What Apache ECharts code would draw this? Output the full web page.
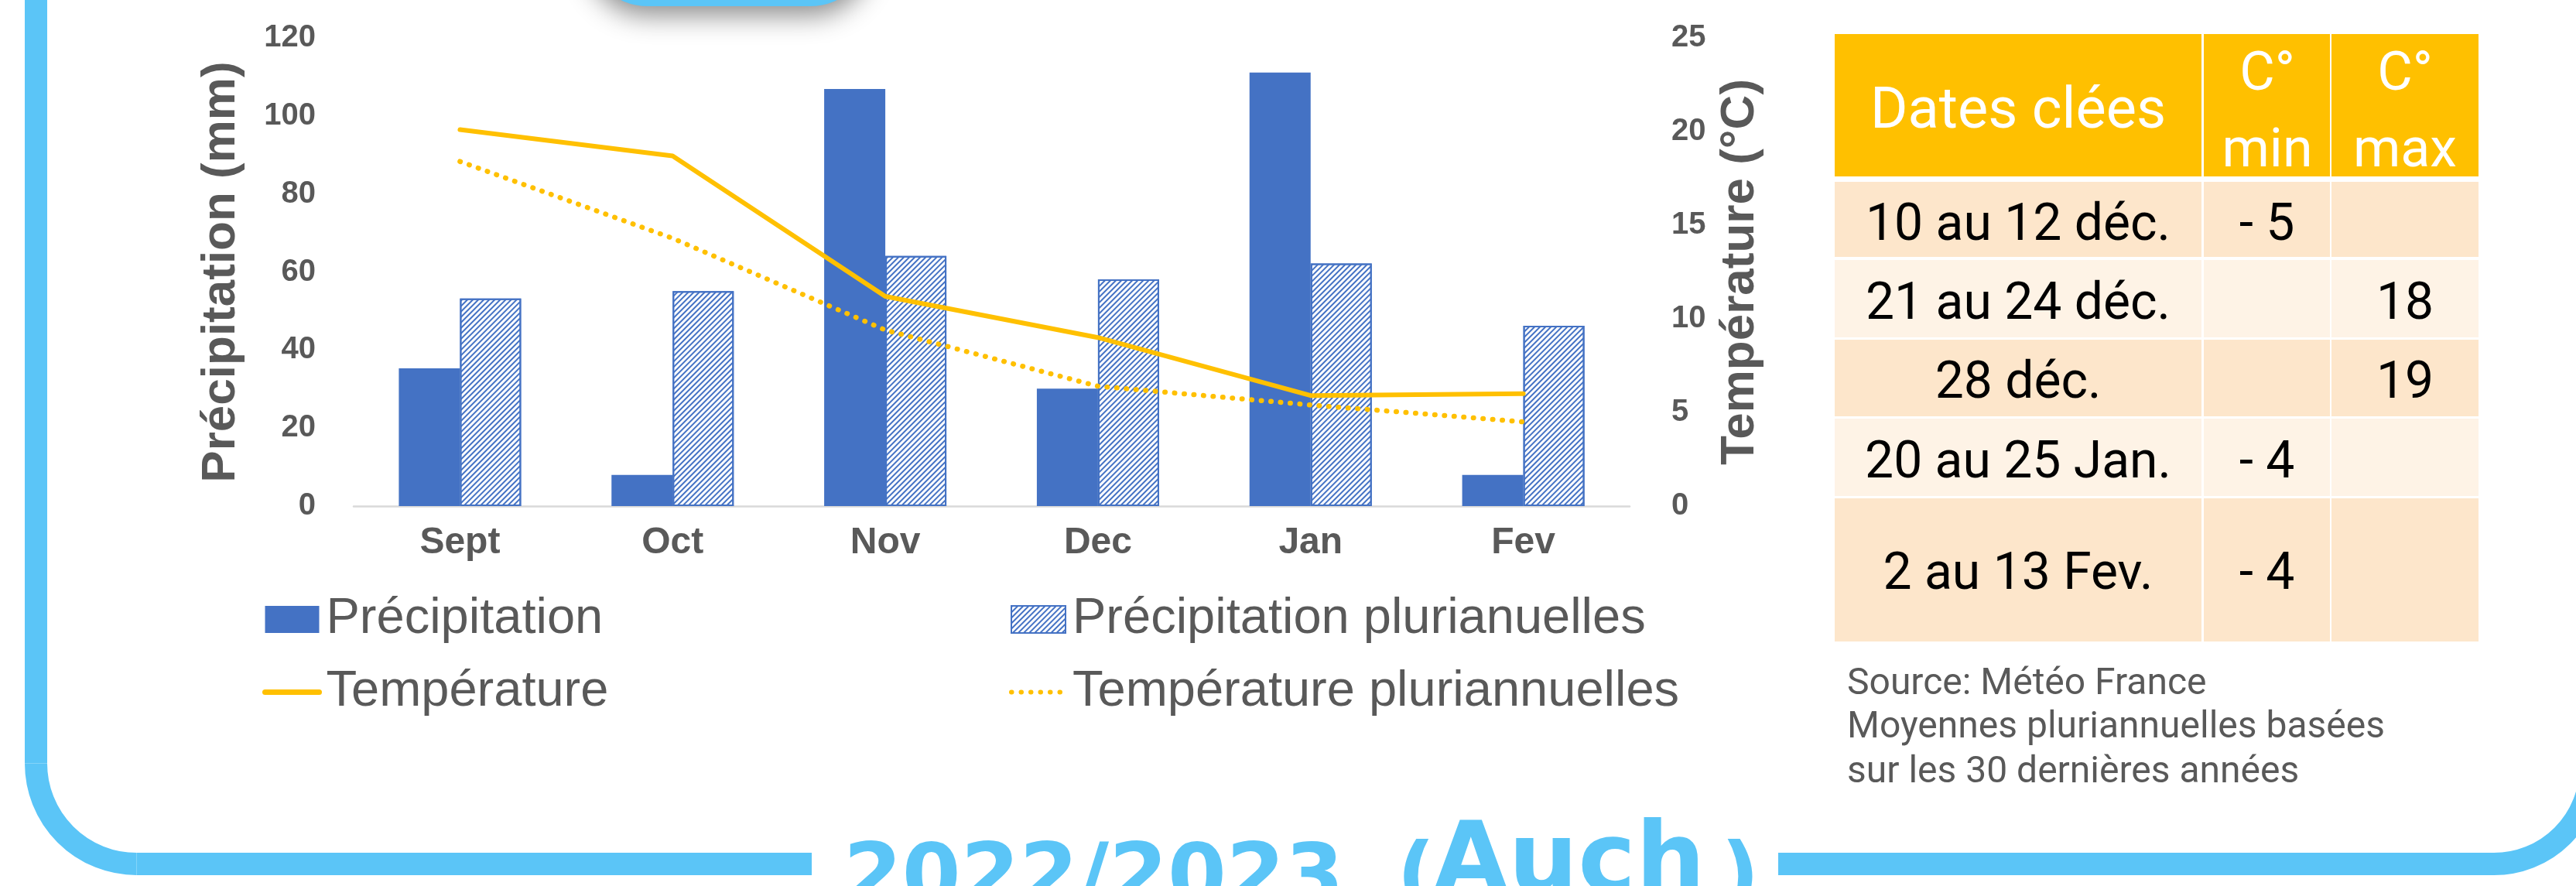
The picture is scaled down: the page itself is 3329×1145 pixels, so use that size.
<!DOCTYPE html>
<html><head><meta charset="utf-8">
<script src="https://cdn.jsdelivr.net/npm/echarts@6/dist/echarts.min.js"></script>
<style>html,body{margin:0;padding:0;background:#fff}#c{width:3329px;height:1145px}</style>
</head><body><div id="c"></div>
<script>
// ---------- data ----------
const categories = ['Sept', 'Oct', 'Nov', 'Dec', 'Jan', 'Fev'];
const precipitation = [35.3, 8, 106.9, 30.1, 111.1, 8];
const precipitationPluri = [53.2, 55.1, 64.1, 58.1, 62.2, 46.2];
const temperature = [20.1, 18.7, 11.2, 9.0, 5.9, 6.0];
const temperaturePluri = [18.4, 14.3, 9.4, 6.4, 5.4, 4.5];
const seriesNames = ['Précipitation', 'Précipitation plurianuelles', 'Température', 'Température pluriannuelles'];
const axisNames = ['Précipitation (mm)', 'Température (°C)'];
const precipAxis = [0, 120, 20];   // min, max, interval
const tempAxis = [0, 25, 5];
const tableHeader = ['Dates clées', 'C°', 'min', 'C°', 'max'];
const tableDates = ['10 au 12 déc.', '21 au 24 déc.', '28 déc.', '20 au 25 Jan.', '2 au 13 Fev.'];
const tableMin = ['- 5', '', '', '- 4', '- 4'];
const tableMax = ['', '18', '19', '', ''];
const sourceLines = ['Source: Météo France', 'Moyennes pluriannuelles basées', 'sur les 30 dernières années'];
const titleParts = ['2022/2023', '(', 'Auch', ')'];

// ---------- styles ----------
const BLUE = '#4472C4', GOLD = '#FFC000', GREY = '#595959', SKY = '#5BC5F7';
const CF = '"Liberation Sans", Arial, sans-serif';
const TF = 'Roboto, "Noto Sans", sans-serif';
const DOTS = [0.5, 12];

const g = [];
const frameStyle = {fill: null, stroke: SKY, lineWidth: 29};
// frame
g.push({type: 'line', z: 1, shape: {x1: 46.5, y1: -20, x2: 46.5, y2: 986.5}, style: frameStyle});
g.push({type: 'arc', z: 1, shape: {cx: 176.5, cy: 986.5, r: 130, startAngle: Math.PI / 2, endAngle: Math.PI, clockwise: true}, style: frameStyle});
g.push({type: 'line', z: 1, shape: {x1: 176.5, y1: 1116.5, x2: 1049, y2: 1116.5}, style: frameStyle});
g.push({type: 'line', z: 1, shape: {x1: 2298, y1: 1116.5, x2: 3223, y2: 1116.5}, style: frameStyle});
g.push({type: 'arc', z: 1, shape: {cx: 3223, cy: 991.5, r: 125, startAngle: 0, endAngle: Math.PI / 2, clockwise: true}, style: frameStyle});
g.push({type: 'rect', z: 1, shape: {x: 757, y: -200, width: 370, height: 208, r: 80},
  style: {fill: SKY, shadowBlur: 34, shadowOffsetY: 12, shadowColor: 'rgba(0,0,0,0.45)'}});
// title (cut off at bottom)
const tFontS = 'bold 109px "DejaVu Sans"', tFontL = 'bold 126px "DejaVu Sans"';
const titleX = [1090, 1805, 1852, 2224];
const titleTop = [1084, 1084, 1056, 1084];
titleParts.forEach((t, i) => g.push({type: 'text', z: 2, x: titleX[i], y: titleTop[i],
  style: {text: t, font: i === 2 ? tFontL : tFontS, fill: SKY, textAlign: 'left', textVerticalAlign: 'top'}}));

// table
const colX = [[2371, 2845], [2848, 3011], [3013, 3203]];
const rowY = [[235, 332], [336, 436], [439, 538], [541, 641], [644, 829]];
colX.forEach(c => g.push({type: 'rect', z: 1, shape: {x: c[0], y: 44, width: c[1] - c[0], height: 184}, style: {fill: GOLD}}));
rowY.forEach((r, ri) => colX.forEach(c => g.push({type: 'rect', z: 1,
  shape: {x: c[0], y: r[0], width: c[1] - c[0], height: r[1] - r[0]},
  style: {fill: ri % 2 === 0 ? '#FDE6CB' : '#FEF3E6'}})));
const hFonts = ['74px ' + TF, '70px ' + TF, '70px ' + TF, '70px ' + TF, '70px ' + TF];
const hPos = [[2608, 146], [2930, 98], [2930, 197], [3108, 98], [3108, 197]];
tableHeader.forEach((t, i) => g.push({type: 'text', z: 2, x: hPos[i][0], y: hPos[i][1],
  style: {text: t, font: hFonts[i], fill: '#fff', textAlign: 'center', textVerticalAlign: 'middle'}}));
const rowTextY = [293, 395, 497, 600, 744];
const bFont = '66px ' + TF;
[tableDates, tableMin, tableMax].forEach((col, ci) => col.forEach((t, ri) => {
  if (!t) return;
  g.push({type: 'text', z: 2, x: (colX[ci][0] + colX[ci][1]) / 2, y: rowTextY[ri],
    style: {text: t, font: bFont, fill: '#000', textAlign: 'center', textVerticalAlign: 'middle'}});
}));
const srcY = [885, 941, 999];
sourceLines.forEach((t, i) => g.push({type: 'text', z: 2, x: 2387, y: srcY[i],
  style: {text: t, font: '48px ' + TF, fill: GREY, textAlign: 'left', textVerticalAlign: 'middle'}}));

const hatch = {symbol: 'rect', symbolSize: 1, dashArrayX: [1, 0], dashArrayY: [1.5, 3], rotation: -Math.PI / 4, color: BLUE};
const noSymbol = {color: 'rgba(0,0,0,0)', borderWidth: 0, opacity: 0};

const option = {
  animation: false,
  backgroundColor: '#fff',
  textStyle: {fontFamily: CF},
  grid: {left: 457, right: 1223, top: 49, bottom: 491, containLabel: false},
  legend: [
    {orient: 'vertical', left: 334, top: 763, itemWidth: 70, itemHeight: 35, itemGap: 29, selectedMode: false,
      textStyle: {fontSize: 65, color: GREY, fontFamily: CF, padding: [0, 0, 0, 4]},
      data: [{name: seriesNames[0], icon: 'rect'},
        {name: seriesNames[2], itemStyle: noSymbol, lineStyle: {width: 7, cap: 'round', color: GOLD}}]},
    {orient: 'vertical', left: 1299, top: 763, itemWidth: 70, itemHeight: 35, itemGap: 29, selectedMode: false,
      textStyle: {fontSize: 65, color: GREY, fontFamily: CF, padding: [0, 0, 0, 4]},
      data: [{name: seriesNames[1], icon: 'rect'},
        {name: seriesNames[3], itemStyle: noSymbol, lineStyle: {width: 6, cap: 'round', type: DOTS, color: GOLD}}]}
  ],
  xAxis: {type: 'category', data: categories,
    axisLine: {lineStyle: {color: '#D9D9D9', width: 2.5}}, axisTick: {show: false},
    axisLabel: {fontSize: 48, fontWeight: 'bold', color: GREY, margin: 24, fontFamily: CF}},
  yAxis: [
    {type: 'value', min: precipAxis[0], max: precipAxis[1], interval: precipAxis[2],
      splitLine: {show: false}, axisLine: {show: false}, axisTick: {show: false},
      axisLabel: {fontSize: 40, fontWeight: 'bold', color: GREY, margin: 49, fontFamily: CF},
      name: axisNames[0], nameLocation: 'middle', nameRotate: 90, nameGap: 140,
      nameTextStyle: {fontSize: 62, fontWeight: 'bold', color: GREY, fontFamily: CF}},
    {type: 'value', min: tempAxis[0], max: tempAxis[1], interval: tempAxis[2], position: 'right',
      splitLine: {show: false}, axisLine: {show: false}, axisTick: {show: false},
      axisLabel: {fontSize: 40, fontWeight: 'bold', color: GREY, margin: 54, fontFamily: CF},
      name: axisNames[1], nameLocation: 'middle', nameRotate: 90, nameGap: 112,
      nameTextStyle: {fontSize: 62, fontWeight: 'bold', color: GREY, fontFamily: CF}}
  ],
  series: [
    {name: seriesNames[0], type: 'bar', data: precipitation, barWidth: 79, barGap: '0%', silent: true,
      itemStyle: {color: BLUE}},
    {name: seriesNames[1], type: 'bar', data: precipitationPluri, barWidth: 79, barGap: '0%', silent: true,
      itemStyle: {color: '#fff', borderColor: BLUE, borderWidth: 2, decal: hatch}},
    {name: seriesNames[2], type: 'line', yAxisIndex: 1, data: temperature, symbol: 'none', silent: true, z: 5,
      lineStyle: {color: GOLD, width: 6, cap: 'round'}, itemStyle: {color: GOLD}},
    {name: seriesNames[3], type: 'line', yAxisIndex: 1, data: temperaturePluri, symbol: 'none', silent: true, z: 5,
      lineStyle: {color: GOLD, width: 6.5, type: DOTS, cap: 'round'}, itemStyle: {color: GOLD}}
  ],
  graphic: {elements: g}
};
const chart = echarts.init(document.getElementById('c'), null, {renderer: 'canvas'});
chart.setOption(option);
</script></body></html>
